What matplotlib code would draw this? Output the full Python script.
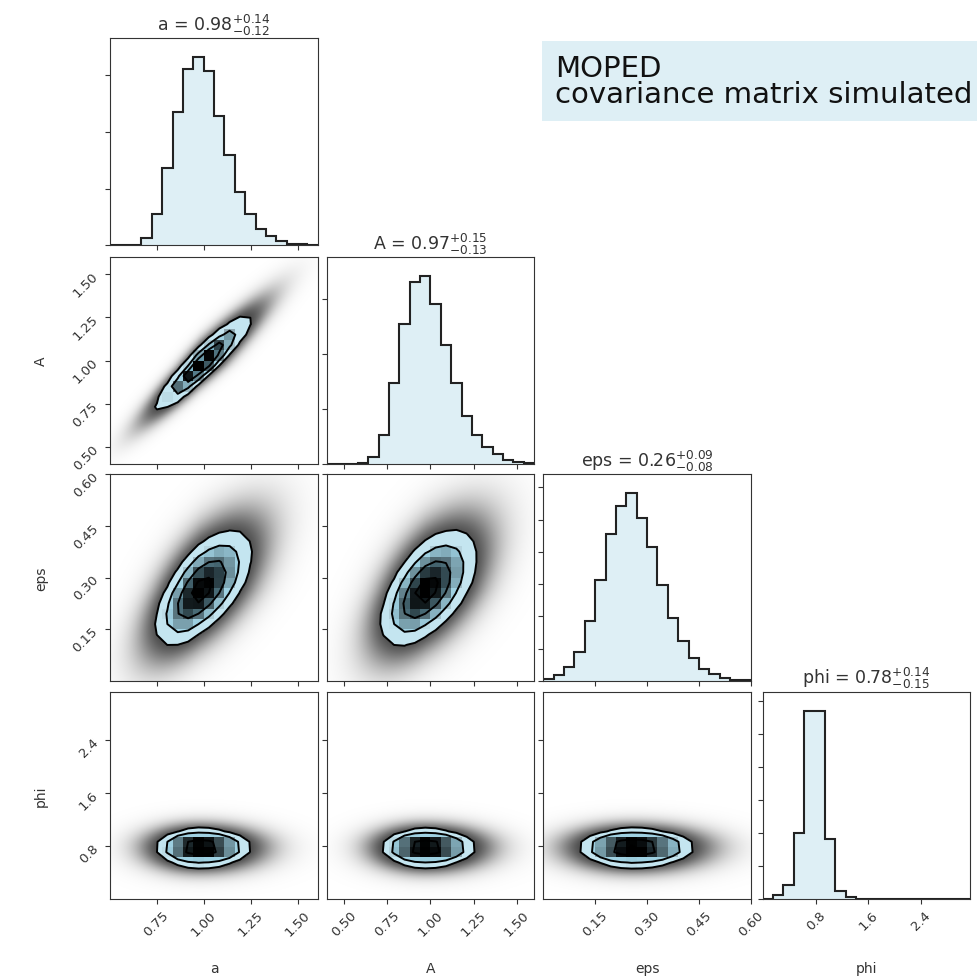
import numpy as np
import matplotlib
matplotlib.use("Agg")
import matplotlib.pyplot as plt
from matplotlib.ticker import MaxNLocator, MultipleLocator, NullFormatter
from matplotlib.colors import LinearSegmentedColormap

# parameters, axis ranges and the summary numbers printed in the titles
labels = ["a", "A", "eps", "phi"]
ranges = [(0.505, 1.605), (0.40, 1.60), (0.0, 0.60), (0.0, 3.14)]
medians = [0.98, 0.97, 0.26, 0.78]
err_lo = [0.12, 0.13, 0.08, 0.15]
err_hi = [0.14, 0.15, 0.09, 0.14]

# 1d histogram counts (20 bins over each range)
counts_a = [0, 0, 0, 129, 558, 1363, 2350, 3114, 3320, 3073,
            2280, 1587, 946, 558, 294, 159, 71, 29, 24, 12]
counts_A = [0, 0, 0, 12, 122, 536, 1480, 2559, 3326, 3430,
            2912, 2163, 1480, 871, 524, 305, 183, 73, 37, 12]
counts_eps = [73, 177, 437, 885, 1874, 3123, 4549, 5413, 5830, 5049,
              4143, 2988, 1947, 1228, 708, 385, 208, 83, 42, 21]
counts_phi = [0, 101, 404, 1998, 5700, 5700, 1796, 232, 50, 0,
              0, 0, 0, 0, 0, 0, 0, 0, 0, 0]
counts = [counts_a, counts_A, counts_eps, counts_phi]

# correlation between parameter pairs, estimated from the contour shapes
corr = {(1, 0): 0.93, (2, 0): 0.63, (2, 1): 0.56,
        (3, 0): 0.0, (3, 1): 0.0, (3, 2): 0.0}

levels = 1.0 - np.exp(-0.5 * np.arange(0.5, 2.1, 0.5) ** 2)
band_colors = ["#c4e5f0", "#9fd1e2", "#86c3d8", "#78b8ce"]
txtcol = "#333333"

plt.rcParams["text.color"] = txtcol
plt.rcParams["axes.labelcolor"] = txtcol
plt.rcParams["xtick.color"] = txtcol
plt.rcParams["ytick.color"] = txtcol
plt.rcParams["axes.edgecolor"] = "#333333"
plt.rcParams["xtick.labelsize"] = 9.5
plt.rcParams["ytick.labelsize"] = 9.5
plt.rcParams["axes.labelsize"] = 10


def zscore(x, k):
    s = np.where(x > medians[k], err_hi[k], err_lo[k])
    return (x - medians[k]) / s


def mahal(x, y, kx, ky, r):
    zx = zscore(x, kx)
    zy = zscore(y, ky)
    return (zx ** 2 - 2 * r * zx * zy + zy ** 2) / (1 - r ** 2)


W, Hpx = 977, 979
fig = plt.figure(figsize=(W / 100, Hpx / 100), dpi=100)
lefts = [110.3, 326.7, 543.3, 762.7]
tops = [39.3, 258.0, 475.0, 692.7]
aw, ah = 207.5, 207.0

black_alpha = LinearSegmentedColormap.from_list("ka", [(0, 0, 0, 0), (0, 0, 0, 1)])
steps = [1, 1.5, 2, 2.5, 3, 4, 5, 6, 8, 10]

for i in range(4):
    for j in range(i + 1):
        ax = fig.add_axes([lefts[j] / W, 1 - (tops[i] + ah) / Hpx, aw / W, ah / Hpx])
        if i == j:
            edges = np.linspace(ranges[i][0], ranges[i][1], 21)
            c = np.array(counts[i], dtype=float)
            ax.stairs(c, edges, fill=True, color="lightblue", alpha=0.4, lw=0)
            ax.stairs(c, edges, color="#222222", lw=1.5)
            ax.set_ylim(0, 1.1 * c.max())
            ax.yaxis.set_major_locator(MultipleLocator(1000))
            ax.yaxis.set_major_formatter(NullFormatter())
            title = "{0} = ${1:.2f}_{{-{2:.2f}}}^{{+{3:.2f}}}$".format(
                labels[i], medians[i], err_lo[i], err_hi[i])
            ax.set_title(title, fontsize=12.5)
        else:
            r = corr[(i, j)]
            # background cloud of samples
            xs = np.linspace(ranges[j][0], ranges[j][1], 320)
            ys = np.linspace(ranges[i][0], ranges[i][1], 320)
            X, Y = np.meshgrid(xs, ys)
            q = mahal(X, Y, j, i, r)
            nu = 10.0
            t = ((1 + q / nu) / (1 + 4 / nu)) ** (-(nu + 2) / 2)
            img = np.zeros((320, 320, 4))
            img[..., 3] = 0.78 * (1 - np.exp(-2.0 * t))
            ax.imshow(img, extent=[ranges[j][0], ranges[j][1], ranges[i][0], ranges[i][1]],
                      origin="lower", aspect="auto", interpolation="bilinear", zorder=0)
            # binned density, corner style
            ex = np.linspace(ranges[j][0], ranges[j][1], 21)
            ey = np.linspace(ranges[i][0], ranges[i][1], 21)
            cx = 0.5 * (ex[1:] + ex[:-1])
            cy = 0.5 * (ey[1:] + ey[:-1])
            CX, CY = np.meshgrid(cx, cy)
            Hd = np.exp(-0.5 * mahal(CX, CY, j, i, r))
            flat = np.sort(Hd.ravel())[::-1]
            cum = np.cumsum(flat)
            cum /= cum[-1]
            V = []
            for lv in levels:
                sel = flat[cum <= lv]
                V.append(sel[-1] if len(sel) else flat[0] * 0.999)
            V = np.sort(V)
            for k in range(1, len(V)):
                if V[k] <= V[k - 1]:
                    V[k] = V[k - 1] * 1.0001
            ax.contourf(CX, CY, Hd, levels=np.concatenate([V, [Hd.max() * 1.0001]]),
                        colors=band_colors, antialiased=False, zorder=1)
            shade = np.clip((Hd / Hd.max() - 0.33) / 0.62, 0, 1)
            ax.pcolormesh(ex, ey, shade, cmap=black_alpha,
                          vmin=0, vmax=1, zorder=2, shading="flat")
            ax.contour(CX, CY, Hd, V, colors="k", linewidths=1.4, zorder=3)
            ax.set_ylim(ranges[i])
            ax.yaxis.set_major_locator(MaxNLocator(5, prune="lower", steps=steps))
            if j == 0:
                ax.set_ylabel(labels[i])
                ax.yaxis.set_label_coords(-0.3, 0.5)
                ax.tick_params(axis="y", labelrotation=45)
            else:
                ax.yaxis.set_major_formatter(NullFormatter())
        ax.set_xlim(ranges[j])
        ax.xaxis.set_major_locator(MaxNLocator(5, prune="lower", steps=steps))
        if i == 3:
            ax.set_xlabel(labels[j])
            ax.xaxis.set_label_coords(0.5, -0.3)
            ax.tick_params(axis="x", labelrotation=45)
        else:
            ax.xaxis.set_major_formatter(NullFormatter())

fig.text(555 / W, 1 - 55 / Hpx, "MOPED\ncovariance matrix simulated", fontsize=21,
         ha="left", va="top", linespacing=0.9, color="#111111",
         bbox=dict(boxstyle="square,pad=0.45", facecolor="lightblue", alpha=0.4,
                   edgecolor="none"))

fig.savefig("out.png", dpi=100)
